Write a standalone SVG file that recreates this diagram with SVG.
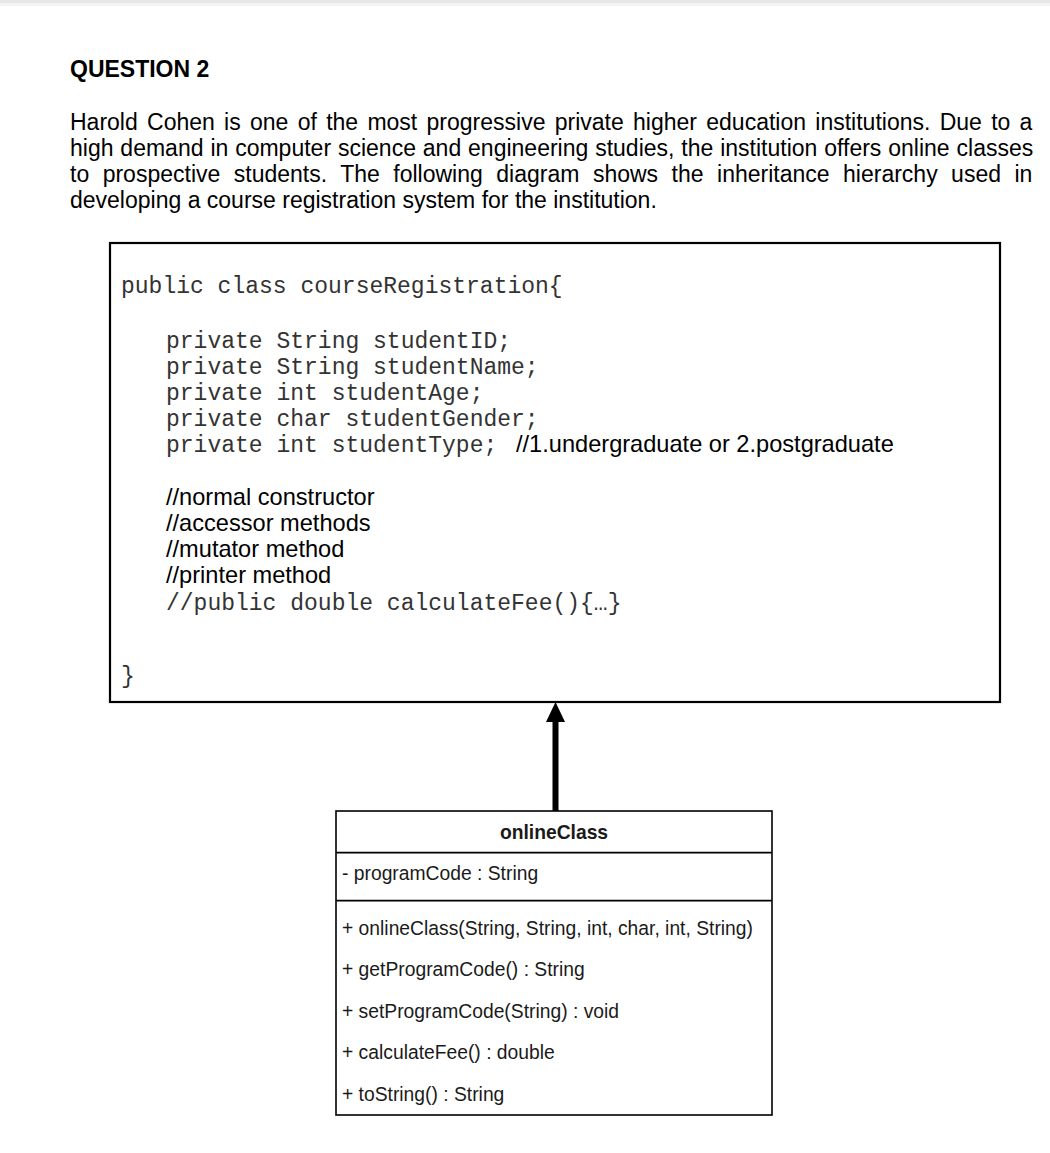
<svg xmlns="http://www.w3.org/2000/svg" width="1050" height="1153" viewBox="0 0 1050 1153">
  <style>
    .body { font-family: "Liberation Sans", Arial, sans-serif; font-size: 23px; fill: #000; }
    .title { font-family: "Liberation Sans", Arial, sans-serif; font-size: 23px; font-weight: bold; fill: #000; }
    .mono { font-family: "Liberation Mono", "Courier New", monospace; font-size: 23px; fill: #333; }
    .cmt { font-family: "Liberation Sans", Arial, sans-serif; font-size: 23.6px; fill: #000; }
    .uml { font-family: "Liberation Sans", Arial, Helvetica, sans-serif; font-size: 19.3px; fill: #1a1a1a; }
    .umlh { font-family: "Liberation Sans", Arial, Helvetica, sans-serif; font-size: 19.3px; font-weight: bold; fill: #1a1a1a; }
    .box { fill: #fff; stroke: #000; stroke-width: 2.2; }
    .cls { fill: #fff; stroke: #000; stroke-width: 1.6; }
    .sep { stroke: #000; stroke-width: 1.6; }
  </style>
  <rect x="0" y="0" width="1050" height="1153" fill="#fff"/>
  <rect x="0" y="0" width="1050" height="3" fill="#e6e6e6"/>
  <rect x="0" y="3" width="1050" height="3" fill="#f3f3f3"/>

  <text class="title" x="70" y="77">QUESTION 2</text>
  <text class="body" x="70" y="130" style="word-spacing:2.9px">Harold Cohen is one of the most progressive private higher education institutions. Due to a</text>
  <text class="body" x="70" y="156" style="word-spacing:0.5px">high demand in computer science and engineering studies, the institution offers online classes</text>
  <text class="body" x="70" y="182" style="word-spacing:7.1px">to prospective students. The following diagram shows the inheritance hierarchy used in</text>
  <text class="body" x="70" y="208">developing a course registration system for the institution.</text>

  <g id="courseRegistration">
    <rect class="box" x="110" y="243" width="890" height="459"/>
    <text class="mono" x="121" y="293">public class courseRegistration{</text>
    <text class="mono" x="166" y="348">private String studentID;</text>
    <text class="mono" x="166" y="374">private String studentName;</text>
    <text class="mono" x="166" y="400">private int studentAge;</text>
    <text class="mono" x="166" y="426">private char studentGender;</text>
    <text class="mono" x="166" y="452">private int studentType;</text>
    <text class="cmt" x="516" y="452">//1.undergraduate or 2.postgraduate</text>
    <text class="cmt" x="166" y="505">//normal constructor</text>
    <text class="cmt" x="166" y="531">//accessor methods</text>
    <text class="cmt" x="166" y="557">//mutator method</text>
    <text class="cmt" x="166" y="583">//printer method</text>
    <text class="mono" x="166" y="610">//public double calculateFee(){…}</text>
    <text class="mono" x="121" y="683">}</text>
  </g>

  <g id="connectors">
    <line x1="555.5" y1="811" x2="555.5" y2="718" stroke="#000" stroke-width="6"/>
    <path d="M555.5,702 L546,722 L565,722 Z" fill="#000"/>
  </g>

  <g id="onlineClass">
    <rect class="cls" x="336" y="811" width="436" height="304"/>
    <line class="sep" x1="336" y1="852.6" x2="772" y2="852.6"/>
    <line class="sep" x1="336" y1="900.6" x2="772" y2="900.6"/>
    <text class="umlh" x="554" y="838.5" text-anchor="middle">onlineClass</text>
    <text class="uml" x="342" y="880">- programCode : String</text>
    <text class="uml" x="342" y="935">+ onlineClass(String, String, int, char, int, String)</text>
    <text class="uml" x="342" y="976">+ getProgramCode() : String</text>
    <text class="uml" x="342" y="1018">+ setProgramCode(String) : void</text>
    <text class="uml" x="342" y="1059">+ calculateFee() : double</text>
    <text class="uml" x="342" y="1101">+ toString() : String</text>
  </g>
</svg>
